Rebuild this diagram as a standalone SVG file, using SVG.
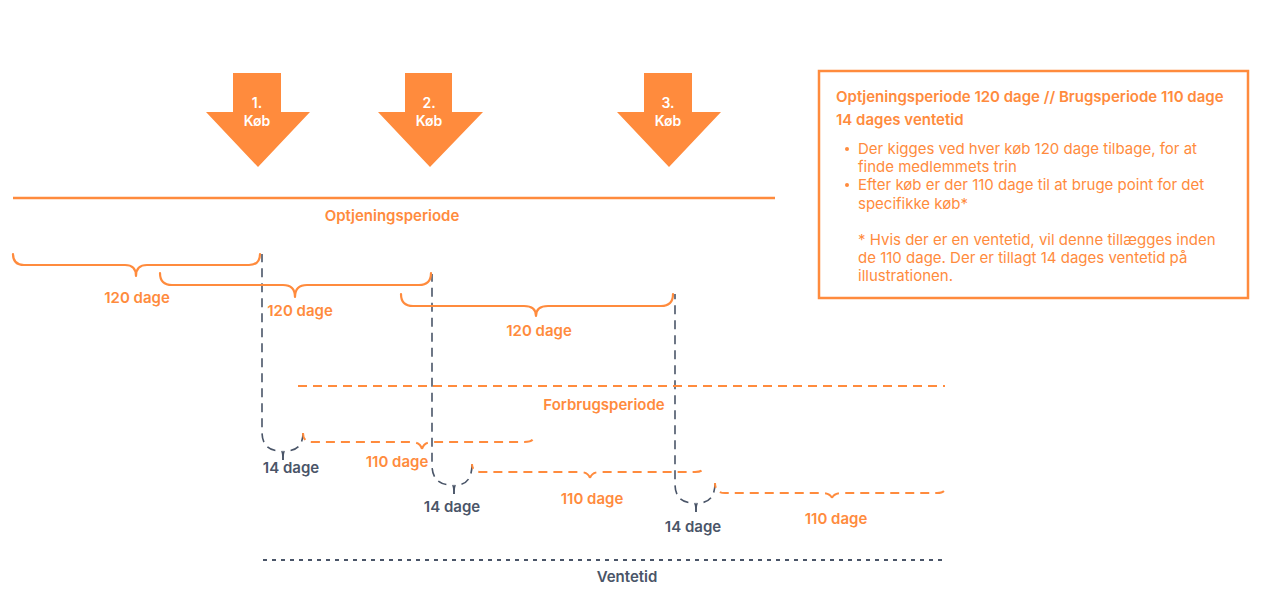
<svg xmlns="http://www.w3.org/2000/svg" width="1262" height="598" viewBox="0 0 1262 598">
<style>
.o{fill:none;stroke:#FF8B3D;stroke-width:2.2;stroke-linecap:round;stroke-linejoin:round}
.od{fill:none;stroke:#FF8B3D;stroke-width:2;stroke-dasharray:9 6}
.gd{fill:none;stroke:#4A5568;stroke-width:1.6;stroke-dasharray:9 6}
.gdot{fill:none;stroke:#4A5568;stroke-width:2;stroke-dasharray:4 5}
.arrow{fill:#FF8B3D}
.t{font-family:Inter,"Liberation Sans",sans-serif;font-size:15px;font-weight:600;text-anchor:middle}
.ta{font-family:Inter,"Liberation Sans",sans-serif;font-size:14px;font-weight:600;text-anchor:middle;fill:#FFFFFF}
.to{fill:#FF8B3D}
.tg{fill:#4A5568}
.bt{font-family:Inter,"Liberation Sans",sans-serif;font-size:15px;fill:#FF8B3D}
</style>
<rect width="1262" height="598" fill="#FFFFFF"/>
<g id="arrow1">
<polygon class="arrow" points="233,73 281,73 281,112 310,112 258,167 206,112 233,112"/>
<text class="ta" x="257" y="108">1.</text>
<text class="ta" x="257" y="126">Køb</text>
</g>
<g id="arrow2">
<polygon class="arrow" points="405,73 452,73 452,112 483,112 430,167 378,112 405,112"/>
<text class="ta" x="429" y="108">2.</text>
<text class="ta" x="429" y="126">Køb</text>
</g>
<g id="arrow3">
<polygon class="arrow" points="644,73 692,73 692,112 721,112 669,167 617,112 644,112"/>
<text class="ta" x="668" y="108">3.</text>
<text class="ta" x="668" y="126">Køb</text>
</g>
<g id="optjening">
<line x1="13" y1="198" x2="775" y2="198" stroke="#FF8B3D" stroke-width="2.5"/>
<text class="t to" x="392" y="221">Optjeningsperiode</text>
</g>
<g id="connectors">
<path class="gd" d="M283,460 q0,-9 -2,-9 q-19,0 -19,-19 V254"/>
<path class="gd" d="M283,460 q0,-9 2,-9 q18,0 18,-18"/>
<path class="gd" d="M454,494 q0,-9 -2,-9 q-20,0 -20,-20 V274"/>
<path class="gd" d="M454,494 q0,-9 2,-9 q16,0 16,-21"/>
<path class="gd" d="M696,512 q0,-9 -2,-9 q-19,0 -19,-19 V294"/>
<path class="gd" d="M696,512 q0,-9 2,-9 q17,0 17,-20"/>
</g>
<g id="brace120a">
<path class="o" d="M13,254 q0,11 11,11 H125 q11,0 11,11 q0,-11 11,-11 H249 q11,0 11,-11"/>
<text class="t to" x="137" y="303">120 dage</text>
</g>
<g id="brace120b">
<path class="o" d="M160,273 q0,12 12,12 H283 q12,0 12,12 q0,-12 12,-12 H419 q12,0 12,-12"/>
<text class="t to" x="300" y="316">120 dage</text>
</g>
<g id="brace120c">
<path class="o" d="M401,294 q0,12 12,12 H524 q12,0 12,10 q0,-10 12,-10 H661 q12,0 12,-12"/>
<text class="t to" x="539" y="336">120 dage</text>
</g>
<g id="forbrug">
<line class="od" x1="298" y1="386" x2="945" y2="386"/>
<text class="t to" x="604" y="410">Forbrugsperiode</text>
</g>
<g id="brace110a">
<path class="od" d="M422,449 q-2,-7 -11,-7 H312 q-9,0 -9,-9"/>
<path class="od" d="M422,449 q2,-7 11,-7 H524 q9,0 9,-4"/>
<text class="t to" x="397" y="467">110 dage</text>
</g>
<g id="brace110b">
<path class="od" d="M590,478 q-2,-6 -10,-6 H481 q-9,0 -9,-8"/>
<path class="od" d="M590,478 q2,-6 10,-6 H695 q8,0 8,-4"/>
<text class="t to" x="592" y="504">110 dage</text>
</g>
<g id="brace110c">
<path class="od" d="M832,498 q-2,-5 -10,-5 H725 q-10,0 -10,-10"/>
<path class="od" d="M832,498 q2,-5 10,-5 H937 q8,0 8,-5"/>
<text class="t to" x="836" y="524">110 dage</text>
</g>
<g id="wait1"><text class="t tg" x="291" y="473">14 dage</text></g>
<g id="wait2"><text class="t tg" x="452" y="512">14 dage</text></g>
<g id="wait3"><text class="t tg" x="693" y="532">14 dage</text></g>
<g id="ventetid">
<line class="gdot" x1="263" y1="560" x2="945" y2="560"/>
<text class="t tg" x="627" y="582">Ventetid</text>
</g>
<g id="infobox">
<rect x="819" y="71" width="429" height="227" fill="#FFFFFF" stroke="#FF8B3D" stroke-width="2.5"/>
<text class="bt" x="836" y="102" font-weight="600">Optjeningsperiode 120 dage // Brugsperiode 110 dage</text>
<text class="bt" x="836" y="125" font-weight="600">14 dages ventetid</text>
<circle cx="847" cy="149" r="2" fill="#FF8B3D"/>
<circle cx="847" cy="185" r="2" fill="#FF8B3D"/>
<text class="bt" x="858" y="154">Der kigges ved hver køb 120 dage tilbage, for at</text>
<text class="bt" x="858" y="172">finde medlemmets trin</text>
<text class="bt" x="858" y="190">Efter køb er der 110 dage til at bruge point for det</text>
<text class="bt" x="858" y="209">specifikke køb*</text>
<text class="bt" x="858" y="245">* Hvis der er en ventetid, vil denne tillægges inden</text>
<text class="bt" x="858" y="263">de 110 dage. Der er tillagt 14 dages ventetid på</text>
<text class="bt" x="858" y="281">illustrationen.</text>
</g>
</svg>
